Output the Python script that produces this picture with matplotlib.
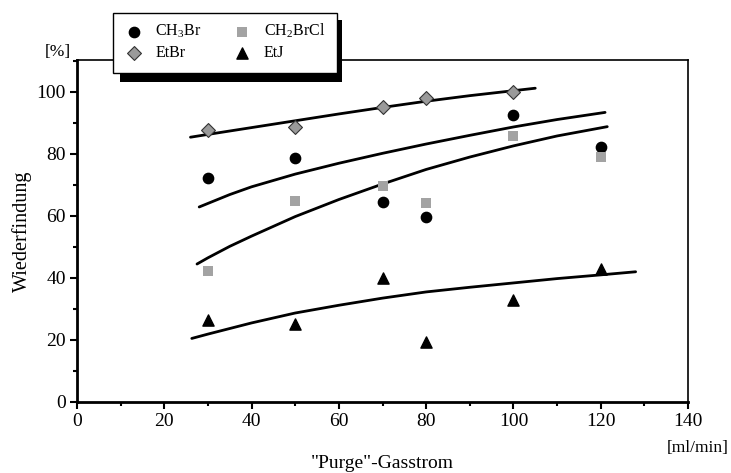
import matplotlib
matplotlib.use('Agg')
from matplotlib import pyplot as plt
from matplotlib.ticker import MultipleLocator
from matplotlib.patches import Rectangle

# --- measured points ---
flow = [30, 50, 70, 80, 100, 120]
ch3br = [72.2, 78.8, 64.5, 59.6, 92.6, 82.2]
ch2brcl = [42.4, 64.8, 69.7, 64.1, 85.9, 78.9]
etbr_flow = [30, 50, 70, 80, 100]
etbr = [87.7, 88.8, 95.3, 98.0, 100.1]
etj = [26.5, 25.2, 40.0, 19.5, 33.0, 43.0]

# --- fitted curves ---
fit_etbr_x = [26, 30, 40, 50, 60, 70, 80, 90, 100, 105]
fit_etbr_y = [85.4, 86.3, 88.5, 90.7, 92.9, 95.0, 97.0, 98.8, 100.4, 101.2]
fit_ch3br_x = [28, 35, 40, 50, 60, 70, 80, 90, 100, 110, 121]
fit_ch3br_y = [62.9, 66.9, 69.4, 73.5, 77.0, 80.2, 83.2, 86.0, 88.7, 91.1, 93.4]
fit_ch2brcl_x = [27.5, 30, 35, 40, 50, 60, 70, 80, 90, 100, 110, 121.5]
fit_ch2brcl_y = [44.5, 46.5, 50.2, 53.5, 59.8, 65.3, 70.3, 75.0, 79.0, 82.6, 85.8, 88.8]
fit_etj_x = [26.3, 30, 40, 50, 60, 70, 80, 90, 100, 110, 120, 128]
fit_etj_y = [20.5, 21.9, 25.5, 28.7, 31.2, 33.5, 35.5, 37.0, 38.4, 39.8, 41.0, 42.0]

plt.rcParams['font.family'] = ['Liberation Serif', 'DejaVu Serif']
plt.rcParams['mathtext.default'] = 'regular'

W, H = 731, 473
fig = plt.figure(figsize=(W / 100, H / 100), dpi=100)
ax = fig.add_axes([77/W, 1 - 402/H, (688 - 77)/W, (402 - 60)/H])

for fx, fy in [(fit_etbr_x, fit_etbr_y), (fit_ch3br_x, fit_ch3br_y),
               (fit_ch2brcl_x, fit_ch2brcl_y), (fit_etj_x, fit_etj_y)]:
    ax.plot(fx, fy, color='black', lw=2, solid_capstyle='round')

h1 = ax.scatter(flow, ch3br, marker='o', s=55, color='black', zorder=3)
h2 = ax.scatter(flow, ch2brcl, marker='s', s=60, color='#a3a3a3', linewidths=0, zorder=3)
h3 = ax.scatter(etbr_flow, etbr, marker='D', s=50, facecolor='#9a9a9a', edgecolor='#333333',
                linewidths=0.8, zorder=3)
h4 = ax.scatter(flow, etj, marker='^', s=65, color='black', zorder=3)

ax.set_xlim(0, 140)
ax.set_ylim(0, 110.3)
ax.xaxis.set_major_locator(MultipleLocator(20))
ax.xaxis.set_minor_locator(MultipleLocator(10))
ax.yaxis.set_major_locator(MultipleLocator(20))
ax.yaxis.set_minor_locator(MultipleLocator(10))
ax.tick_params(which='major', direction='out', length=5, width=1.5, labelsize=14, pad=3)
ax.tick_params(which='minor', direction='out', length=3, width=1.5)
for s in ['left', 'bottom']:
    ax.spines[s].set_linewidth(2)
for s in ['top', 'right']:
    ax.spines[s].set_linewidth(1.2)

ax.set_ylabel('Wiederfindung', fontsize=14.5, labelpad=3)
ax.set_xlabel('"Purge"-Gasstrom', fontsize=14, labelpad=18)
fig.text(45/W, 1 - 52/H, '[%]', fontsize=12.5, va='center', ha='left')
fig.text(729/W, 1 - 448/H, '[ml/min]', fontsize=12.5, va='center', ha='right')

# legend box with a hard black drop shadow
fig.patches.append(Rectangle((120/W, 1 - 82/H), (342 - 120)/W, (82 - 20)/H,
                             transform=fig.transFigure, facecolor='black',
                             edgecolor='none', zorder=2))
fig.patches.append(Rectangle((113/W, 1 - 73/H), (337 - 113)/W, (73 - 13)/H,
                             transform=fig.transFigure, facecolor='white',
                             edgecolor='black', linewidth=1, zorder=3))
leg = fig.legend([h1, h3, h2, h4], ['CH$_3$Br', 'EtBr', 'CH$_2$BrCl', 'EtJ'],
                 ncol=2, loc='upper left', bbox_to_anchor=(124/W, 1 - 22/H),
                 fontsize=11.5, frameon=False, borderpad=0, borderaxespad=0,
                 handlelength=1.2, handletextpad=0.75, columnspacing=1.95,
                 labelspacing=0.3, scatterpoints=1)
leg.set_zorder(4)

fig.savefig('out.png', dpi=100)
